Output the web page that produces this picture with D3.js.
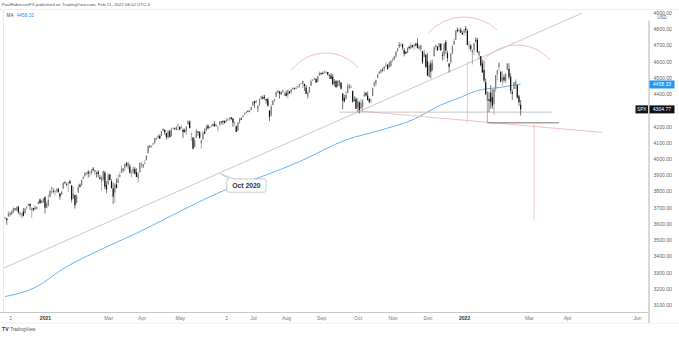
<!DOCTYPE html>
<html><head><meta charset="utf-8">
<script src="https://cdn.jsdelivr.net/npm/d3@7"></script>
<style>html,body{margin:0;padding:0;background:#fff;}svg{display:block;font-family:"Liberation Sans",Arial,sans-serif;}</style>
</head><body><svg id="c" width="679" height="337"></svg>
<script>
// SPX daily bars, 27 Nov 2020 (bar 0) .. 22 Feb 2022 (bar 310)
const opens=[3638,3634,
3645,3653,3669,3670,3694,3684,3705,3659,3656,3675,3666,3696,3713,3722,3684,3698,3693,3694,3723,3750,3736,3734,
3764,3698,3712,3764,3815,3803,3801,3802,3814,3788,3781,3817,3857,3844,3851,3862,3837,3756,3778,
3731,3791,3840,3837,3878,3893,3910,3921,3916,3912,3940,3918,3915,3921,3886,3865,3873,3915,3839,
3842,3904,3863,3818,3793,3844,3851,3891,3915,3924,3943,3973,3949,3953,3913,3916,3938,3919,3880,3917,3969,3963,3968,
3992,4035,4076,4075,4089,4096,4124,4130,4141,4140,4174,4179,4159,4129,4170,4139,4185,4188,4185,4206,4198,
4191,4180,4178,4170,4211,4229,4151,4131,4074,4130,4170,4165,4098,4122,4168,4171,4205,4191,4201,4210,
4216,4206,4191,4207,4229,4234,4233,4229,4242,4249,4256,4249,4220,4201,4174,4224,4249,4257,4274,4284,4293,4290,
4301,4327,4356,4351,4321,4329,4373,4381,4380,4369,4367,4297,4266,4331,4361,4382,4409,4416,4408,4410,4395,
4406,4392,4416,4408,4429,4437,4436,4442,4446,4464,4462,4462,4440,4383,4410,4450,4484,4490,4493,4475,4514,4529,
4529,4535,4532,4535,4518,4514,4506,4474,4479,4447,4477,4470,4403,4374,4368,4406,4438,4442,4419,4362,4370,
4317,4348,4310,4319,4384,4406,4391,4368,4359,4387,4447,4463,4497,4524,4532,4547,4553,4575,4580,4563,4573,
4611,4614,4631,4662,4700,4701,4707,4670,4659,4655,4689,4679,4701,4700,4708,4712,4679,4675,4664,4628,4641,
4602,4504,4589,4548,4632,4690,4691,4688,4710,4642,4636,4720,4652,4588,4594,4650,4703,4733,4796,4788,4795,4776,
4778,4804,4788,4693,4698,4656,4670,4729,4734,4637,4633,4588,4548,4472,4357,4367,4408,4380,4337,4432,
4519,4566,4536,4482,4505,4480,4548,4554,4506,4412,4430,4456,4456,4385,4333];
const highs=[3644,3634,
3678,3670,3682,3699,3697,3708,3712,3678,3665,3698,3695,3711,3725,3726,3702,3698,3711,3703,3740,3756,3744,3760,
3770,3738,3783,3811,3826,3817,3810,3820,3823,3788,3804,3859,3861,3853,3859,3870,3837,3830,3778,
3784,3843,3848,3872,3894,3915,3919,3931,3925,3935,3950,3933,3921,3931,3902,3896,3928,3926,3862,
3915,3906,3874,3852,3851,3881,3903,3917,3960,3944,3970,3982,3983,3969,3930,3955,3950,3942,3919,3978,3981,3969,3994,
4021,4084,4086,4083,4099,4129,4132,4148,4152,4173,4191,4181,4160,4175,4180,4194,4194,4193,4201,4218,4199,
4210,4187,4187,4202,4238,4237,4162,4135,4131,4184,4172,4170,4117,4172,4188,4210,4213,4202,4213,4219,
4234,4216,4203,4233,4232,4236,4237,4250,4249,4255,4257,4251,4233,4205,4226,4255,4256,4271,4286,4292,4300,4302,
4321,4355,4359,4362,4331,4372,4387,4392,4394,4370,4376,4300,4336,4360,4370,4415,4422,4416,4415,4430,4412,
4422,4424,4418,4429,4441,4440,4445,4449,4461,4468,4480,4462,4455,4418,4444,4489,4492,4501,4496,4513,4538,4532,
4537,4546,4542,4536,4521,4529,4521,4492,4486,4487,4486,4471,4403,4394,4417,4466,4463,4457,4419,4385,4382,
4375,4355,4369,4365,4416,4412,4415,4375,4373,4439,4476,4488,4520,4540,4551,4560,4572,4598,4584,4598,4608,
4621,4636,4664,4684,4718,4714,4709,4684,4664,4688,4697,4715,4702,4708,4718,4744,4701,4702,4664,4673,4647,
4652,4596,4608,4612,4694,4705,4695,4713,4711,4660,4712,4732,4666,4588,4651,4697,4740,4791,4808,4805,4808,4787,
4796,4819,4798,4726,4708,4673,4714,4749,4745,4665,4633,4612,4602,4495,4418,4411,4454,4428,4432,4516,
4550,4595,4542,4540,4521,4531,4590,4589,4527,4427,4473,4490,4456,4395,4362];
const lows=[3630,3594,
3645,3645,3657,3670,3679,3678,3660,3645,3633,3647,3659,3688,3710,3685,3636,3676,3689,3689,3723,3723,3730,3726,
3663,3696,3705,3764,3783,3789,3776,3791,3792,3749,3780,3816,3845,3831,3797,3847,3732,3756,3694,
3725,3791,3822,3837,3874,3892,3902,3885,3890,3903,3923,3901,3885,3885,3874,3805,3859,3814,3789,
3842,3868,3818,3723,3730,3818,3851,3885,3915,3915,3924,3950,3935,3910,3887,3906,3903,3889,3854,3917,3944,3944,3968,
3992,4035,4069,4069,4083,4096,4114,4125,4123,4140,4171,4148,4119,4126,4131,4139,4183,4177,4181,4176,4175,
4188,4128,4160,4147,4210,4189,4111,4057,4069,4130,4142,4126,4062,4115,4152,4171,4182,4188,4198,4203,
4197,4198,4167,4206,4215,4209,4219,4228,4233,4235,4239,4196,4203,4165,4173,4217,4240,4257,4271,4275,4287,4287,
4301,4327,4314,4342,4289,4329,4364,4367,4365,4340,4322,4233,4262,4331,4351,4381,4405,4372,4394,4410,4387,
4385,4373,4402,4403,4426,4425,4430,4437,4436,4461,4437,4418,4400,4368,4406,4450,4482,4486,4468,4475,4514,4515,
4522,4527,4524,4513,4493,4492,4457,4445,4436,4439,4447,4427,4305,4347,4367,4406,4430,4436,4346,4355,4307,
4288,4279,4304,4290,4383,4386,4361,4343,4342,4387,4447,4447,4497,4524,4526,4538,4537,4569,4551,4563,4565,
4595,4604,4621,4662,4682,4694,4671,4631,4648,4651,4673,4679,4684,4672,4692,4680,4669,4660,4585,4626,4560,
4510,4504,4495,4540,4632,4674,4665,4671,4666,4606,4612,4648,4598,4531,4584,4645,4703,4733,4780,4778,4775,4766,
4758,4775,4700,4671,4663,4582,4639,4716,4651,4614,4569,4530,4471,4395,4222,4287,4309,4309,4273,4414,
4484,4544,4471,4451,4471,4465,4548,4489,4402,4364,4430,4430,4371,4327,4267];
const closes=[3638,3622,
3662,3669,3666,3699,3691,3702,3672,3668,3663,3647,3694,3701,3722,3709,3694,3687,3690,3703,3735,3727,3732,3756,
3700,3726,3748,3803,3825,3799,3801,3810,3795,3768,3798,3851,3853,3841,3855,3849,3750,3787,3714,
3774,3826,3830,3871,3887,3915,3911,3910,3916,3934,3932,3931,3913,3906,3876,3881,3925,3829,3811,
3901,3870,3820,3768,3842,3821,3875,3899,3939,3943,3969,3962,3974,3915,3913,3940,3910,3889,3909,3975,3971,3959,3973,
4020,4078,4074,4080,4097,4129,4128,4142,4125,4170,4185,4163,4135,4173,4135,4180,4188,4187,4183,4211,4181,
4193,4165,4168,4201,4233,4189,4153,4063,4113,4174,4163,4128,4116,4160,4156,4198,4188,4196,4201,4204,
4202,4208,4192,4230,4227,4227,4220,4239,4247,4255,4246,4224,4222,4166,4224,4246,4242,4266,4281,4290,4291,4298,
4320,4352,4343,4358,4320,4370,4385,4369,4375,4360,4327,4258,4323,4359,4368,4412,4422,4402,4401,4419,4395,
4387,4423,4403,4429,4437,4432,4436,4447,4460,4468,4480,4449,4400,4406,4442,4480,4486,4497,4470,4509,4529,4523,
4524,4537,4535,4520,4514,4493,4459,4469,4443,4481,4474,4433,4358,4355,4395,4449,4455,4443,4353,4360,4308,
4357,4301,4346,4364,4399,4391,4361,4351,4364,4438,4471,4487,4520,4537,4550,4545,4567,4575,4552,4596,4605,
4614,4631,4660,4680,4697,4702,4686,4647,4649,4683,4683,4701,4689,4704,4698,4682,4691,4701,4595,4655,4567,
4513,4577,4538,4592,4686,4701,4668,4712,4669,4635,4710,4669,4621,4568,4649,4697,4726,4791,4786,4793,4778,4766,
4797,4794,4701,4696,4677,4670,4713,4726,4659,4663,4577,4533,4483,4398,4410,4357,4350,4327,4432,4516,
4546,4589,4477,4501,4484,4522,4587,4504,4419,4402,4472,4476,4380,4349,4305];

// Moving average (bar index, value)
const maBars=[0,17,37,57,79,97,117,137,157,177,205,225,245,262,274,282,289,298,306,310];
const maValues=[3152,3203,3336,3439,3542,3634,3737,3829,3901,3983,4117,4175,4240,4332,4379,4414,4431,4440,4455,4458];

const priceTicks=[3100,3200,3300,3400,3500,3600,3700,3800,3900,4000,4100,4200,4300,4400,4500,4600,4700,4800,4900];
const timeLabels=["2","2021","Mar","Apr","May","2","Jul","Aug","Sep","Oct","Nov","Dec","2022","Mar","Apr","Jun"];
const timeBars=[3,24,62,82,105,133,149,169,190,212,233,254,276,315,338,380];
const boldLabels=["2021","2022"];
const lastPrice=4304.77, maLast=4458.33;

// drawings (bar index, price)
const trendLine=[[-2,3322],[347,4898]];
const neckGrey=[[201,4288],[329,4288]];
const neckBlack=[[290,4222],[333,4222]];
const neckRed=[[211,4297],[359,4163]];
const redVertHead=[[278,4600],[278,4222]];
const redVertTarget=[[318,4222],[318,3626]];
const arcs=[
  [[172.3,4547],[192.4,4652],[212.4,4560]],
  [[254.5,4775],[274.7,4874],[295.8,4794]],
  [[286.6,4590],[307.2,4701],[327.7,4609]]
];
const calloutBar=129.7, calloutText="Oct 2020";

const svg=d3.select("#c");
const P={left:3.5,right:649,top:9.5,bottom:312.5};
const x=d3.scaleLinear().domain([0,310]).range([5.09,520.62]);
const y=d3.scaleLinear().domain([3100,4800]).range([305,29]);

const defs=svg.append("defs");
defs.append("clipPath").attr("id","pc").append("rect")
 .attr("x",P.left).attr("y",P.top).attr("width",P.right-P.left).attr("height",P.bottom-P.top);
defs.append("clipPath").attr("id","ac").append("rect")
 .attr("x",P.right).attr("y",10.6).attr("width",40).attr("height",P.bottom-10.6);

// frame
svg.append("line").attr("x1",P.left).attr("x2",P.left).attr("y1",P.top).attr("y2",P.bottom).attr("stroke","#e6e6e6").attr("stroke-width",0.8);
svg.append("line").attr("x1",0).attr("x2",679).attr("y1",P.top).attr("y2",P.top).attr("stroke","#ececec").attr("stroke-width",0.8);
svg.append("line").attr("x1",0).attr("x2",679).attr("y1",323).attr("y2",323).attr("stroke","#ececec").attr("stroke-width",0.8);

// header
svg.append("text").attr("x",1.7).attr("y",6.4).attr("font-size",4.4).attr("fill","#555")
 .text("PaulRobinsonFX published on TradingView.com, Feb 21, 2022 08:02 UTC-5");
const ma=svg.append("text").attr("x",6.5).attr("y",16.6).attr("font-size",4.8);
ma.append("tspan").attr("fill","#555").text("MA");
ma.append("tspan").attr("fill","#2196f3").attr("dx",3).text(d3.format(".2f")(maLast));

const g=svg.append("g").attr("clip-path","url(#pc)");
const lineP=(pts)=>d3.line().x(d=>x(d[0])).y(d=>y(d[1]))(pts);

// trend line
g.append("path").attr("d",lineP(trendLine)).attr("stroke","#bdbdbd").attr("stroke-width",0.8).attr("fill","none");
// MA
g.append("path").attr("d",d3.line().curve(d3.curveMonotoneX).x((d,i)=>x(maBars[i])).y((d,i)=>y(maValues[i]))(maBars))
 .attr("stroke","#64b5f6").attr("stroke-width",1).attr("fill","none");
// neck lines
g.append("path").attr("d",lineP(neckRed)).attr("stroke","#f5b8b8").attr("stroke-width",0.9).attr("fill","none");
g.append("path").attr("d",lineP(neckGrey)).attr("stroke","#b8b8b8").attr("stroke-width",0.8).attr("fill","none");
g.append("path").attr("d",lineP(neckBlack)).attr("stroke","#666").attr("stroke-width",0.9).attr("fill","none");
g.append("path").attr("d",lineP(redVertHead)).attr("stroke","#f5b8b8").attr("stroke-width",0.8).attr("fill","none");
g.append("path").attr("d",lineP(redVertTarget)).attr("stroke","#f5b8b8").attr("stroke-width",0.8).attr("fill","none");

// arcs through three points
arcs.forEach(a=>{
  const p=a.map(d=>[x(d[0]),y(d[1])]);
  const [ax,ay]=p[0],[bx,by]=p[1],[cx,cy]=p[2];
  const D=2*(ax*(by-cy)+bx*(cy-ay)+cx*(ay-by));
  const ux=((ax*ax+ay*ay)*(by-cy)+(bx*bx+by*by)*(cy-ay)+(cx*cx+cy*cy)*(ay-by))/D;
  const uy=((ax*ax+ay*ay)*(cx-bx)+(bx*bx+by*by)*(ax-cx)+(cx*cx+cy*cy)*(bx-ax))/D;
  const r=Math.hypot(ax-ux,ay-uy);
  g.append("path").attr("d",`M${ax},${ay}A${r},${r} 0 0 1 ${cx},${cy}`)
   .attr("stroke","#f3b8b8").attr("stroke-width",0.9).attr("fill","none");
});

// candles
const bars=d3.range(closes.length);
const cg=g.append("g");
bars.forEach(i=>{
  const up=closes[i]>=opens[i];
  const col=up?"#7a7a7a":"#111";
  const hi=Math.max(highs[i],opens[i],closes[i]), lo=Math.min(lows[i],opens[i],closes[i]);
  cg.append("line").attr("x1",x(i)).attr("x2",x(i)).attr("y1",y(hi)).attr("y2",y(lo))
    .attr("stroke",up?"#999":"#555").attr("stroke-width",0.8);
  const t=y(Math.max(opens[i],closes[i])), b=y(Math.min(opens[i],closes[i]));
  cg.append("rect").attr("x",x(i)-0.6).attr("width",1.2).attr("y",t).attr("height",Math.max(0.7,b-t)).attr("fill",col);
});

// callout
const tipX=x(calloutBar);
const tipY=y(trendLine[0][1]+(calloutBar-trendLine[0][0])*(trendLine[1][1]-trendLine[0][1])/(trendLine[1][0]-trendLine[0][0]))+1.5;
const bx0=tipX+6, by0=tipY+5, bw=39.3, bh=13.3;
svg.append("path").attr("d",
 `M${bx0+2},${by0} L${tipX},${tipY} L${bx0+7},${by0} L${bx0+bw-2},${by0} Q${bx0+bw},${by0} ${bx0+bw},${by0+2} L${bx0+bw},${by0+bh-2} Q${bx0+bw},${by0+bh} ${bx0+bw-2},${by0+bh} L${bx0+2},${by0+bh} Q${bx0},${by0+bh} ${bx0},${by0+bh-2} L${bx0},${by0+2} Q${bx0},${by0} ${bx0+2},${by0} Z`)
 .attr("fill","#fff").attr("stroke","#b0b0b0").attr("stroke-width",0.7);
svg.append("text").attr("x",bx0+bw/2).attr("y",by0+bh/2+2.4).attr("text-anchor","middle")
 .attr("font-size",6.8).attr("font-weight","bold").attr("fill","#333").text(calloutText);

// price axis (outer group clipped in page coordinates, inner group translated)
const yaOuter=svg.append("g").attr("clip-path","url(#ac)");
const ya=yaOuter.append("g").attr("transform",`translate(${P.right},0)`)
 .call(d3.axisRight(y).tickValues(priceTicks).tickFormat(d3.format(".2f")).tickSize(0).tickPadding(4.5));
ya.select(".domain").remove();
ya.selectAll("text").attr("font-size",5.1).attr("fill","#666").attr("font-family","Liberation Sans, Arial, sans-serif");
svg.append("text").attr("x",662).attr("y",19.4).attr("text-anchor","middle").attr("font-size",4.6).attr("fill","#666").text("USD");
svg.append("line").attr("x1",P.right).attr("x2",P.right).attr("y1",20.5).attr("y2",323).attr("stroke","#c8c8c8").attr("stroke-width",1.4);

// price labels
function priceTag(v,fill){
  const yy=y(v);
  svg.append("rect").attr("x",P.right+0.5).attr("y",yy-4).attr("width",25).attr("height",8).attr("fill",fill);
  svg.append("text").attr("x",P.right+13).attr("y",yy+1.8).attr("text-anchor","middle").attr("font-size",5.1).attr("fill","#fff").text(d3.format(".2f")(v));
}
priceTag(maLast,"#2196f3");
priceTag(lastPrice,"#111");
svg.append("rect").attr("x",635.5).attr("y",y(lastPrice)-4).attr("width",12.5).attr("height",8).attr("fill","#111");
svg.append("text").attr("x",641.7).attr("y",y(lastPrice)+1.8).attr("text-anchor","middle").attr("font-size",4.6).attr("fill","#fff").text("SPX");

// time axis
const xa=svg.append("g").attr("transform",`translate(0,${P.bottom})`)
 .call(d3.axisBottom(x).tickValues(timeBars).tickFormat((d,i)=>timeLabels[i]).tickSize(0).tickPadding(4.2));
xa.select(".domain").remove();
xa.selectAll("text").attr("font-size",5.1).attr("font-family","Liberation Sans, Arial, sans-serif")
 .attr("fill",(d,i)=>boldLabels.includes(timeLabels[i])?"#333":"#777")
 .attr("font-weight",(d,i)=>boldLabels.includes(timeLabels[i])?"bold":"normal");
svg.append("line").attr("x1",0).attr("x2",P.right).attr("y1",P.bottom).attr("y2",P.bottom).attr("stroke","#c8c8c8").attr("stroke-width",1);

// footer logo
const ft=svg.append("text").attr("x",2).attr("y",331).attr("fill","#333");
ft.append("tspan").attr("font-size",5.2).attr("font-weight","bold").text("TV");
ft.append("tspan").attr("font-size",4.6).attr("dx",1.5).attr("fill","#555").text("TradingView");
</script></body></html>
